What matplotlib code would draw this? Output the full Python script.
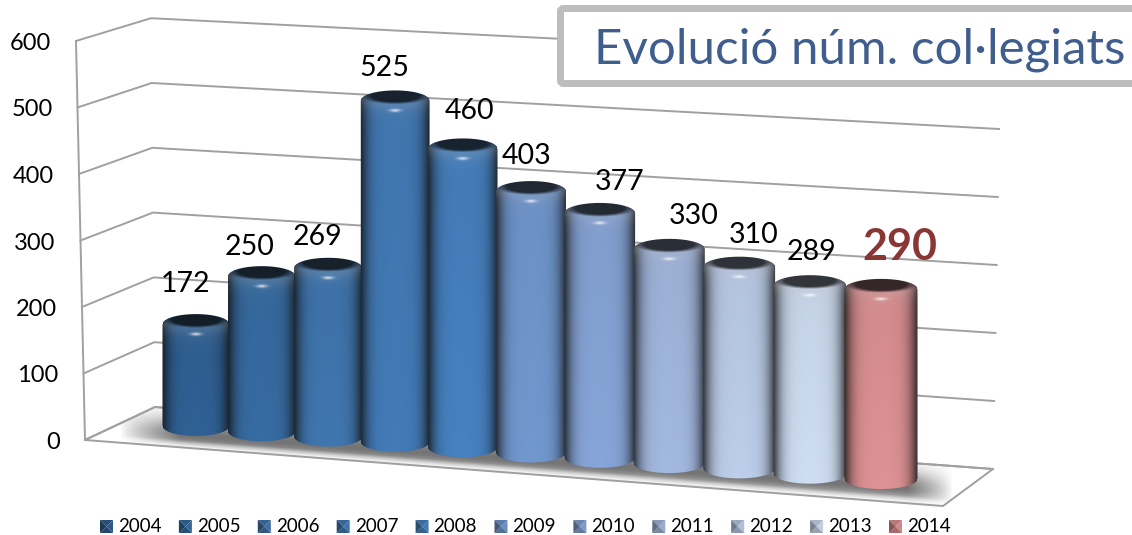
import numpy as np
import matplotlib
matplotlib.use('Agg')
import matplotlib.pyplot as plt
from matplotlib.patches import Polygon, FancyBboxPatch

plt.rcParams['font.family'] = ['Lato', 'DejaVu Sans']

# Data
years = [2004, 2005, 2006, 2007, 2008, 2009, 2010, 2011, 2012, 2013, 2014]
values = [172, 250, 269, 525, 460, 403, 377, 330, 310, 289, 290]
ticks = [0, 100, 200, 300, 400, 500, 600]
title = "Evolució núm. col·legiats"
colors = ['#2f5f92', '#366a9f', '#3f74ac', '#4279b4', '#457fbd', '#6f95cb', '#84a2d4',
          '#a0b5db', '#b9cae6', '#cbd9ee', '#da8f91']

# label offsets from the top of each cylinder, in pixels
label_dx = [-10, -12, -11, -11, 7, -4, 20, 24, 14, 2, 19]
label_dy = [-40, -29, -31, -32, -37, -35, -31, -33, -32, -33, -42]

W, H = 1132, 535
fig = plt.figure(figsize=(W / 100, H / 100), dpi=100)
ax = fig.add_axes([0, 0, 1, 1])
ax.axis('off')


# Fake 3D projection: (bar index, value) -> pixels
def bar_x(i):
    return 196 + 65.5 * i + 0.3 * i ** 2


def bar_half(i):
    return 33.5 + 0.3 * i


def bar_base(i):
    return 426 + 5.3 * i


def bar_top(i, v):
    return 439.5 + 4.4 * i - 0.671 * v


def wall_front(v):
    return 85 - 0.015 * v, 440 - 0.665 * v


def wall_back_l(v):
    return 155 - 0.0067 * v, 407 - 0.648 * v


def wall_back_r(v):
    return 993 + 0.012 * v, 469 - 0.68 * v


GRID = '#a0a0a0'

# Floor
floor = [wall_front(0), wall_back_l(0), wall_back_r(0), (943, 506)]
ax.add_patch(Polygon(floor, closed=True, fc='white', ec=GRID, lw=1.4, zorder=1))

# Floor shadow
yy, xx = np.mgrid[395:510, 85:995]
line_y = 433 + (xx - 165) * 0.0735
d = yy - line_y
shadow = np.exp(-(d / np.where(d > 0, 13.0, 17.0)) ** 2)
shadow *= np.clip((xx - 120) / 60, 0, 1) ** 0.8 * np.clip((952 - xx) / 45, 0, 1) ** 0.8
# keep it on the floor
back_edge = 407 + (xx - 155) * 62 / 838
front_edge = 440 + (xx - 85) * 66 / 858
left_edge = 440 - (xx - 85) * 33 / 70
right_edge = 506 - (xx - 943) * 37 / 50
shadow *= (yy > back_edge) & (yy > left_edge) & (yy < right_edge)
shadow *= np.clip((front_edge - yy) / 8, 0, 1)
img = np.zeros(shadow.shape + (4,))
img[..., :3] = 0.22
img[..., 3] = shadow * 0.7
ax.imshow(img, extent=(85, 995, 510, 395), aspect='auto', interpolation='bilinear', zorder=1.5)

# Walls
ax.plot([wall_front(0)[0], wall_front(600)[0]], [wall_front(0)[1], wall_front(600)[1]],
        color=GRID, lw=1.4, zorder=2)
for t in ticks:
    f, bl, br = wall_front(t), wall_back_l(t), wall_back_r(t)
    ax.plot([f[0], bl[0], br[0]], [f[1], bl[1], br[1]], color=GRID, lw=1.4, zorder=2)
    ax.text(f[0] - 25, f[1] + 2.5, str(t), ha='right', va='center', fontsize=17, color='black', zorder=6)


# Cylinders
def draw_cylinder(i, v, color):
    cx, a = bar_x(i), bar_half(i)
    yc, yb = bar_top(i, v), bar_base(i)
    x0, x1 = int(cx - a) - 2, int(cx + a) + 3
    y0, y1 = int(yc - 12), int(yb + 12)
    yy, xx = np.mgrid[y0:y1, x0:x1]
    yy = yy + 0.5
    xx = xx + 0.5
    u = np.clip((xx - cx) / a, -1, 1)
    arc = np.sqrt(1 - u ** 2)
    rgb = np.array(matplotlib.colors.to_rgb(color))

    # side shading, a bit darker towards the top
    shade = 1 - 0.68 * np.abs(u) ** 5 - 0.03 * np.abs(u)
    shade = shade * (0.97 + 0.05 * (yy - yc) / (yb - yc))
    # edges go grey rather than navy
    out = rgb[None, None, :] * shade[..., None]
    grey = np.abs(u) ** 6
    out = out * (1 - 0.35 * grey[..., None]) + 0.18 * 0.35 * grey[..., None]

    # lighter rim below the cap, small highlight
    w = yy - (yc + 6 * arc)
    rim = np.exp(-np.clip(w, 0, None) / 7.0) * (w > -8)
    out = out + (0.75 - out) * (0.18 * rim)[..., None]
    glint = np.exp(-((w - 4) / 1.6) ** 2) * np.exp(-(u / 0.16) ** 2)
    out = out + (1 - out) * (0.7 * glint)[..., None]

    # dark cap, soft lower edge
    r = np.sqrt((u / 0.95) ** 2 + ((yy - (yc - 4.5)) / 8.0) ** 2)
    cap = np.clip((1.05 - r) / 0.32, 0, 1)
    cap_col = rgb * 0.2 + 0.04
    out = out * (1 - cap[..., None]) + cap_col * cap[..., None]

    # silhouette
    ytop = yc - 10 * arc
    ybot = yb + 10 * arc
    alpha = np.clip(yy - ytop + 0.5, 0, 1) * np.clip(ybot - yy + 0.5, 0, 1)
    alpha *= np.clip(a - np.abs(xx - cx) + 0.5, 0, 1)

    im = np.dstack([np.clip(out, 0, 1), alpha])
    ax.imshow(im, extent=(x0, x1, y1, y0), aspect='auto', interpolation='nearest', zorder=3 + i * 0.01)


for i, (v, c) in enumerate(zip(values, colors)):
    draw_cylinder(i, v, c)
    lx = bar_x(i) + label_dx[i]
    ly = bar_top(i, v) + label_dy[i]
    if years[i] == 2014:
        ax.text(lx, ly, str(v), ha='center', va='center', fontsize=31, fontweight='bold',
                color='#893734', zorder=6)
    else:
        ax.text(lx, ly, str(v), ha='center', va='center', fontsize=20.5, color='black', zorder=6)

# Title box
ax.add_patch(FancyBboxPatch((560.5, 8.5), 600, 75, boxstyle='round,pad=0,rounding_size=3',
                            fc='white', ec='#bdbdbd', lw=5, zorder=5))
ax.text(860, 50, title, ha='center', va='center', fontsize=35.5, color='#3f5e8e', zorder=6)

# Legend
for i, (y, c) in enumerate(zip(years, colors)):
    lx = 100 + 78.9 * i
    rgb = np.array(matplotlib.colors.to_rgb(c)) * 0.88
    mid = (lx + 6.5, 526.5)
    corners = [(lx, 520), (lx + 13, 520), (lx + 13, 533), (lx, 533)]
    for k, f in enumerate([0.95, 1.08, 0.85, 0.68]):
        tri = [corners[k], corners[(k + 1) % 4], mid]
        ax.add_patch(Polygon(tri, closed=True, fc=np.clip(rgb * f, 0, 1), ec='none', zorder=4))
    ax.text(lx + 18, 527, str(y), ha='left', va='center', fontsize=13.5, color='black', zorder=6)

ax.set_xlim(0, W)
ax.set_ylim(H, 0)
fig.savefig('out.png', dpi=100, facecolor='white')
